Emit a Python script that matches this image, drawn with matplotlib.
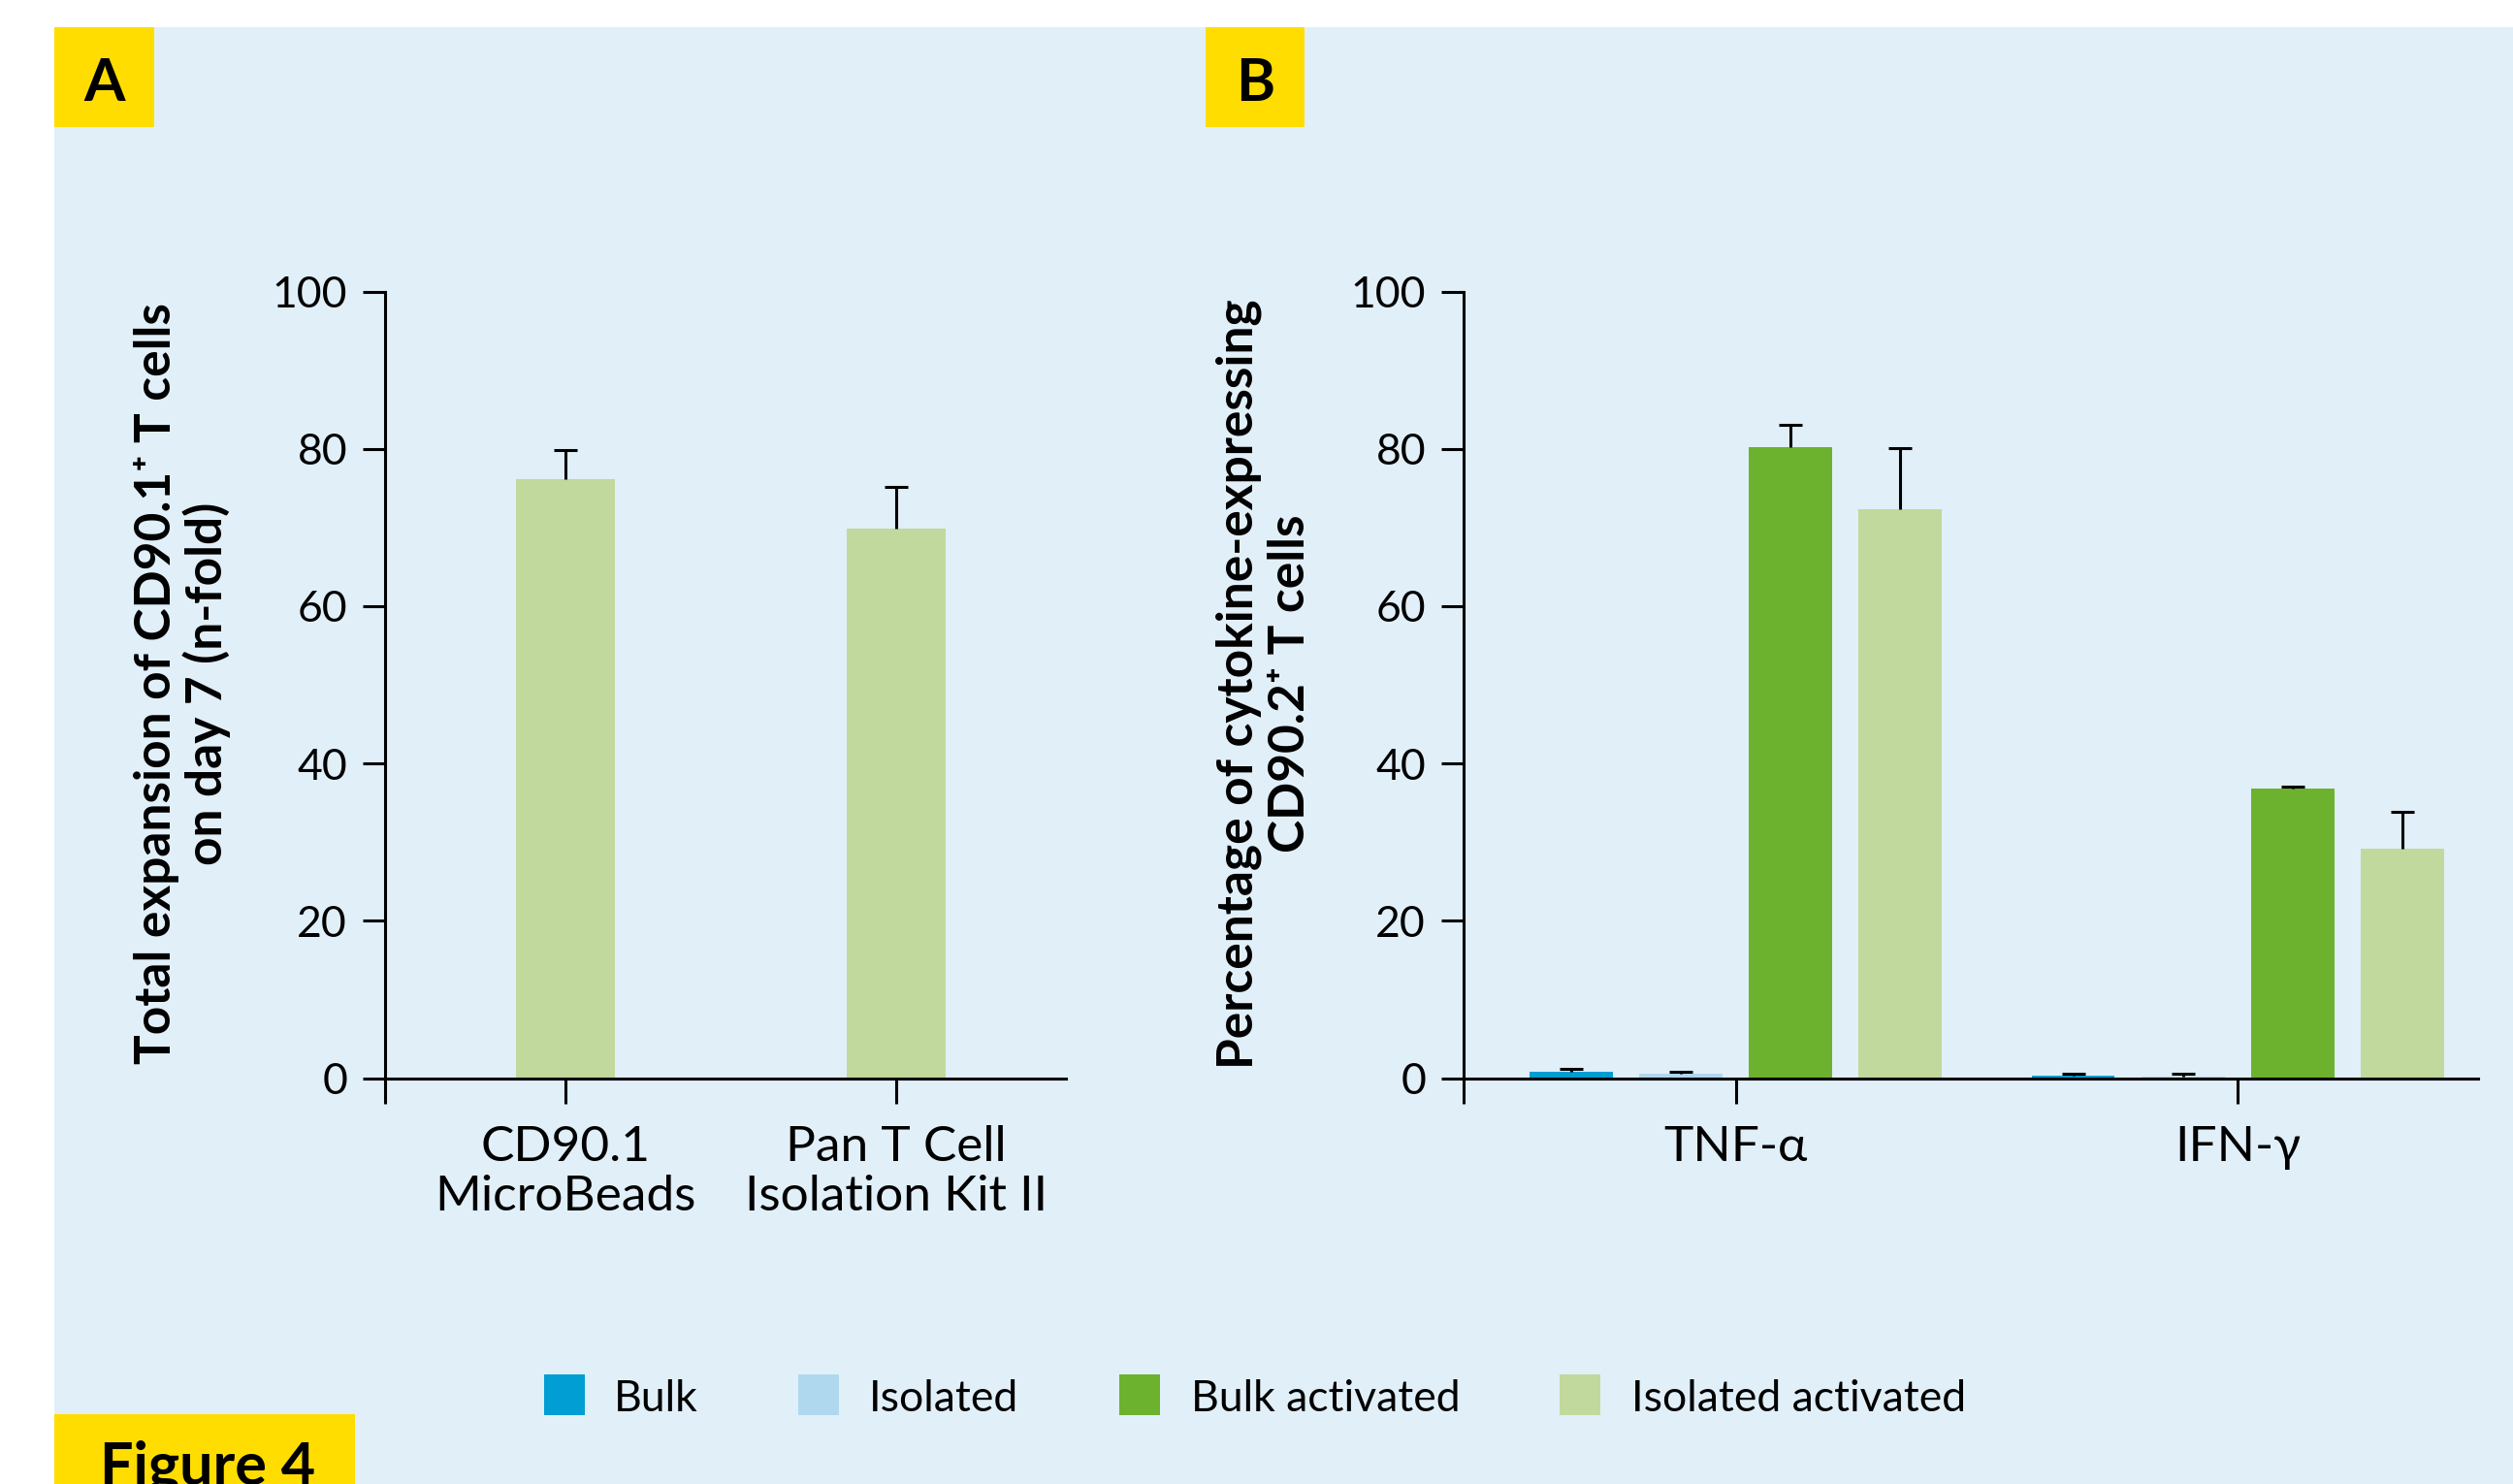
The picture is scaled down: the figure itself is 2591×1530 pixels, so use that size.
import matplotlib
matplotlib.use('Agg')
import matplotlib.pyplot as plt
from matplotlib.patches import Rectangle
import numpy as np

plt.rcParams['font.family'] = ['Lato', 'DejaVu Sans']

# panel A data
a_categories = ['CD90.1\nMicroBeads', 'Pan T Cell\nIsolation Kit II']
a_values = [76.2, 69.8]
a_err = [3.7, 5.4]

# panel B data
b_groups = ['TNF-α', 'IFN-γ']
b_series = ['Bulk', 'Isolated', 'Bulk activated', 'Isolated activated']
b_values = {
    'Bulk': [0.86, 0.25],
    'Isolated': [0.5, 0.2],
    'Bulk activated': [80.2, 36.8],
    'Isolated activated': [72.3, 29.2],
}
b_err = {
    'Bulk': [0.25, 0.25],
    'Isolated': [0.25, 0.3],
    'Bulk activated': [2.8, 0.3],
    'Isolated activated': [7.8, 4.6],
}
y_ticks = [0, 20, 40, 60, 80, 100]

colors = {
    'Bulk': '#009ED2',
    'Isolated': '#AFD8EE',
    'Bulk activated': '#6DB22E',
    'Isolated activated': '#C2D99D',
}
bg = '#E1EFF8'
yellow = '#FFDD00'

W, H = 2591, 1530
fig = plt.figure(figsize=(W / 100, H / 100), dpi=100, facecolor='white')


def fx(px):
    return px / W


def fy(py):
    return 1 - py / H


# light blue background
fig.patches.append(Rectangle((fx(56), 0), 1 - fx(56), fy(28), transform=fig.transFigure,
                             facecolor=bg, edgecolor='none', zorder=-10))

# panel letter boxes
for x0, x1, letter in [(56, 159, 'A'), (1243, 1345, 'B')]:
    fig.patches.append(Rectangle((fx(x0), fy(131)), fx(x1 - x0), fy(28) - fy(131),
                                 transform=fig.transFigure, facecolor=yellow,
                                 edgecolor='none', zorder=-5))
    fig.text(fx((x0 + x1) / 2), fy(104), letter, fontsize=44, fontweight='bold',
             ha='center', va='baseline')

# Figure 4 box
fig.patches.append(Rectangle((fx(56), 0), fx(366 - 56), fy(1458), transform=fig.transFigure,
                             facecolor=yellow, edgecolor='none', zorder=-5))
fig.text(fx(103), fy(1530), 'Figure 4', fontsize=44, fontweight='bold', ha='left', va='baseline')

lw = 2.2


def hide_lower_caps(container):
    # only the upper half of the error bar is shown
    caps = container.errorbar.lines[1]
    if len(caps) == 2:
        caps[0].set_visible(False)


def style_axes(ax, xlim, centers, labels):
    ax.set_facecolor('none')
    ax.set_ylim(0, 100)
    ax.set_xlim(*xlim)
    ax.spines['top'].set_visible(False)
    ax.spines['right'].set_visible(False)
    ax.spines['left'].set_linewidth(lw)
    ax.spines['bottom'].set_linewidth(lw)
    ax.set_yticks(y_ticks)
    ax.set_yticklabels([str(t) for t in y_ticks])
    ax.set_xticks([xlim[0]] + list(centers))
    ax.set_xticklabels([''] + list(labels), fontsize=37, linespacing=1.15)
    ax.tick_params(axis='y', length=16.5, width=lw, pad=11.5, labelsize=32)
    ax.tick_params(axis='x', length=18.7, width=lw, pad=16)


# panel A
axA = fig.add_axes([fx(397), fy(1111.5), fx(1099 - 397), fy(300.5) - fy(1111.5)])
axA.set_zorder(5)
xa = np.arange(len(a_categories))
bars = axA.bar(xa, a_values, 0.3, color=colors['Isolated activated'],
               yerr=[np.zeros(len(a_err)), a_err], capsize=8.3,
               error_kw=dict(elinewidth=lw, capthick=lw, ecolor='black'))
hide_lower_caps(bars)
style_axes(axA, (-0.547, 1.515), xa, a_categories)

# panel B
axB = fig.add_axes([fx(1509), fy(1111.5), fx(2555 - 1509), fy(300.5) - fy(1111.5)])
axB.set_zorder(5)
xb = np.arange(len(b_groups))
pitch = 0.2184
for i, s in enumerate(b_series):
    off = (i - 1.5) * pitch
    bars = axB.bar(xb + off, b_values[s], 0.166, color=colors[s],
                   yerr=[np.zeros(len(b_groups)), b_err[s]], capsize=8.3,
                   error_kw=dict(elinewidth=lw, capthick=lw, ecolor='black'))
    hide_lower_caps(bars)
style_axes(axB, (-0.542, 1.479), xb, b_groups)

# y labels
fig.text(fx(188), fy(705), 'Total expansion of CD90.1⁺ T cells\non day 7 (n-fold)',
         rotation=90, ha='center', va='center', fontsize=37, fontweight='bold',
         multialignment='center', linespacing=1.1)
fig.text(fx(1304), fy(705), 'Percentage of cytokine-expressing\nCD90.2⁺ T cells',
         rotation=90, ha='center', va='center', fontsize=37, fontweight='bold',
         multialignment='center', linespacing=1.15)

# legend
patch_x = [561, 823, 1154, 1608]
text_x = [633, 896, 1228, 1682]
for s, px, tx in zip(b_series, patch_x, text_x):
    fig.patches.append(Rectangle((fx(px), fy(1459)), fx(42), fy(1417) - fy(1459),
                                 transform=fig.transFigure, facecolor=colors[s],
                                 edgecolor='none', zorder=2))
    fig.text(fx(tx), fy(1455), s, fontsize=32, ha='left', va='baseline')

fig.savefig('out.png', dpi=100, facecolor=fig.get_facecolor())
